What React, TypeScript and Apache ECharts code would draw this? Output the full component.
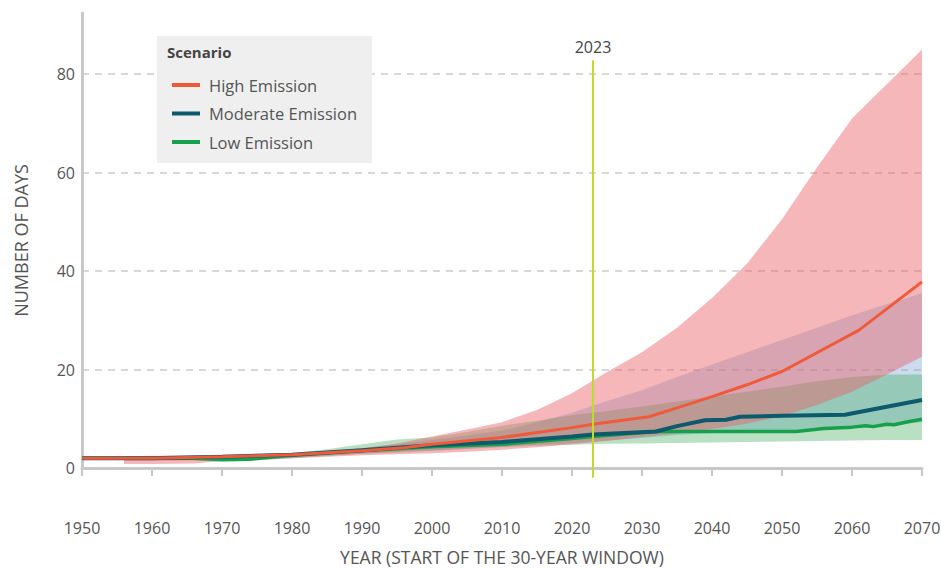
import React, { useEffect, useRef } from "react";
import * as echarts from "echarts";

const FONT = "'Open Sans', 'Noto Sans', sans-serif";

// Scenario names and colours
const scenarioNames = ["High Emission", "Moderate Emission", "Low Emission"];
const scenarioColors = ["#ef5a3a", "#0c5a6b", "#17a04c"];

// Median lines
const highYears = [1950, 1960, 1970, 1980, 1990, 1996, 2000, 2010, 2020, 2023, 2031, 2035, 2040, 2045, 2050, 2061, 2070];
const highDays = [2.0, 2.0, 2.3, 2.7, 3.5, 4.1, 4.8, 6.2, 8.2, 8.9, 10.4, 12.2, 14.5, 16.9, 19.6, 28.0, 37.8];

const modYears = [1950, 1960, 1970, 1980, 1990, 2000, 2010, 2020, 2023, 2032, 2035, 2039, 2042, 2044, 2050, 2059, 2070];
const modDays = [2.0, 2.0, 2.3, 2.7, 3.6, 4.6, 5.3, 6.4, 6.8, 7.4, 8.5, 9.7, 9.8, 10.4, 10.6, 10.8, 13.8];

const lowYears = [1950, 1960, 1966, 1970, 1974, 1980, 1990, 2000, 2010, 2020, 2023, 2032, 2040, 2052, 2056, 2060, 2062, 2063, 2065, 2066, 2068, 2070];
const lowDays = [2.0, 2.0, 2.0, 1.7, 1.8, 2.6, 3.5, 4.3, 4.8, 6.0, 6.4, 7.4, 7.4, 7.4, 8.0, 8.3, 8.6, 8.4, 8.9, 8.8, 9.4, 9.9];

// Uncertainty ranges
const bandYears = [1956, 1960, 1966, 1970, 1975, 1980, 1985, 1990, 1995, 2000, 2005, 2010, 2015, 2020, 2025, 2030, 2035, 2040, 2045, 2050, 2055, 2060, 2065, 2070];
const highUpper = [2.4, 2.5, 2.6, 2.7, 2.8, 3.0, 3.4, 4.0, 5.0, 6.4, 7.8, 9.3, 11.8, 15.2, 19.5, 23.5, 28.5, 34.5, 41.5, 50.5, 61.0, 71.0, 78.0, 85.0];
const highLower = [0.8, 0.8, 0.9, 1.4, 1.7, 2.0, 2.3, 2.6, 2.8, 3.0, 3.3, 3.7, 4.2, 4.8, 5.5, 6.3, 7.0, 7.9, 9.0, 10.5, 12.8, 15.5, 19.0, 22.6];
const modUpper = [2.2, 2.3, 2.4, 2.5, 2.7, 3.0, 3.4, 4.0, 4.8, 5.7, 6.6, 7.6, 9.3, 11.2, 13.6, 15.8, 18.5, 21.0, 23.5, 26.0, 28.5, 31.0, 33.3, 35.5];
const modLower = [1.5, 1.5, 1.6, 1.6, 1.8, 2.1, 2.5, 2.9, 3.2, 3.5, 3.9, 4.3, 4.7, 5.1, 5.6, 6.1, 6.7, 7.1, 7.3, 7.5, 7.8, 8.2, 8.7, 9.3];
const lowUpper = [2.2, 2.3, 2.4, 2.4, 2.6, 3.0, 3.8, 4.8, 5.8, 6.2, 7.3, 8.6, 9.6, 10.7, 11.6, 12.5, 13.5, 14.5, 15.5, 16.5, 17.6, 18.5, 19.0, 19.0];
const lowLower = [1.5, 1.5, 1.5, 1.4, 1.5, 2.0, 2.5, 2.9, 3.2, 3.5, 3.9, 4.2, 4.5, 4.7, 4.9, 5.0, 5.1, 5.2, 5.3, 5.4, 5.5, 5.6, 5.7, 5.7];

// Marker
const markerYear = 2023;
const markerTop = 82.8;
const markerBottom = -2;

// Axis ticks
const yTicks = { min: 0, max: 92.4, interval: 20 };
const xTicks = { min: 1950, max: 2070, interval: 10 };

const pairs = (xs: number[], ys: number[]) => xs.map((x, i) => [x, ys[i]]);

function bandSeries(id: string, lower: number[], upper: number[], color: string, opacity: number) {
  return {
    type: "custom",
    name: id + "-range",
    silent: true,
    z: 1,
    clip: true,
    data: bandYears.map((y, i) => [y, lower[i], upper[i]]),
    encode: { x: 0, y: [1, 2] },
    renderItem: (params: any, api: any) => {
      if (params.dataIndex !== 0) return null;
      const top = bandYears.map((y, i) => api.coord([y, upper[i]]));
      const bottom = bandYears.map((y, i) => api.coord([y, lower[i]])).reverse();
      return {
        type: "polygon",
        shape: { points: top.concat(bottom) },
        style: { fill: color, opacity },
      };
    },
  };
}

function lineSeries(name: string, xs: number[], ys: number[], color: string, width: number) {
  return {
    type: "line",
    name,
    data: pairs(xs, ys),
    symbol: "none",
    color,
    itemStyle: { color },
    lineStyle: { color, width },
    z: 3,
  };
}

export default function App() {
  const ref = useRef<HTMLDivElement>(null);
  useEffect(() => {
    if (!ref.current) return;
    const chart = echarts.init(ref.current, null, { renderer: "svg" });
    const option: any = {
      animation: false,
      textStyle: { fontFamily: FONT },
      grid: { left: 82, right: 19, top: 13, bottom: 101, containLabel: false, outerBoundsMode: "none" },
      legend: {
        data: scenarioNames,
        orient: "vertical",
        left: 157,
        top: 36,
        padding: [40, 15, 12, 15],
        itemGap: 10.5,
        itemWidth: 28,
        itemHeight: 4,
        icon: "rect",
        backgroundColor: "#efefef",
        selectedMode: false,
        textStyle: { fontSize: 16.5, color: "#555", lineHeight: 18, padding: [0, 0, 0, 4], fontFamily: FONT },
        z: 5,
      },
      graphic: [
        {
          type: "text",
          left: 167,
          top: 44,
          z: 100,
          style: { text: "Scenario", font: `bold 15px ${FONT}`, fill: "#444" },
        },
      ],
      xAxis: {
        type: "value",
        ...xTicks,
        name: "YEAR (START OF THE 30-YEAR WINDOW)",
        nameLocation: "middle",
        nameGap: 79,
        nameTextStyle: { fontSize: 17.5, color: "#555", fontFamily: FONT, lineHeight: 19 },
        axisLine: { show: true, lineStyle: { color: "#c8c8c8", width: 3 } },
        axisTick: { show: true, length: 8, lineStyle: { color: "#c8c8c8", width: 2 } },
        axisLabel: { margin: 52, fontSize: 16, color: "#555", formatter: (v: number) => String(v) },
        splitLine: { show: false },
      },
      yAxis: {
        type: "value",
        ...yTicks,
        name: "NUMBER OF DAYS",
        nameLocation: "middle",
        nameGap: 52,
        nameTextStyle: { fontSize: 18, color: "#555", fontFamily: FONT },
        axisLine: { show: true, lineStyle: { color: "#c8c8c8", width: 3 } },
        axisTick: { show: false },
        axisLabel: { margin: 7, fontSize: 16, color: "#555", showMaxLabel: false },
        splitLine: { show: true, showMaxLine: false, lineStyle: { color: "#cccccc", width: 1.5, type: [7, 6] } },
      },
      series: [
        bandSeries("mod", modLower, modUpper, "#6c9fcf", 0.36),
        bandSeries("low", lowLower, lowUpper, "#3aa655", 0.35),
        bandSeries("high", highLower, highUpper, "#ec5f67", 0.45),
        lineSeries(scenarioNames[2], lowYears, lowDays, scenarioColors[2], 3.5),
        lineSeries(scenarioNames[1], modYears, modDays, scenarioColors[1], 4),
        lineSeries(scenarioNames[0], highYears, highDays, scenarioColors[0], 3),
        {
          type: "custom",
          name: "marker",
          silent: true,
          z: 6,
          clip: false,
          data: [[markerYear, markerTop, markerBottom]],
          encode: { x: 0, y: 1 },
          renderItem: (_p: any, api: any) => {
            const top = api.coord([api.value(0), api.value(1)]);
            const bot = api.coord([api.value(0), api.value(2)]);
            return {
              type: "group",
              children: [
                {
                  type: "line",
                  shape: { x1: top[0], y1: top[1], x2: bot[0], y2: bot[1] },
                  style: { stroke: "#c5d82e", lineWidth: 2 },
                },
                {
                  type: "text",
                  x: top[0],
                  y: top[1] - 5,
                  style: {
                    text: String(api.value(0)),
                    fontSize: 16,
                    fontFamily: FONT,
                    fill: "#444",
                    align: "center",
                    verticalAlign: "bottom",
                  },
                },
              ],
            };
          },
        },
      ],
    };
    chart.setOption(option);
    return () => chart.dispose();
  }, []);
  return <div ref={ref} style={{ position: "fixed", left: 0, top: 0, width: 941, height: 569, background: "#fff" }} />;
}
